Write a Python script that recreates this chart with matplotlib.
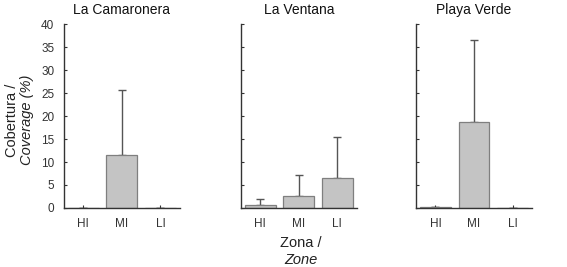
import numpy as np
import matplotlib.pyplot as plt

plt.rcParams['font.family'] = ['Liberation Sans', 'DejaVu Sans']

zones = ['HI', 'MI', 'LI']
sites = ['La Camaronera', 'La Ventana', 'Playa Verde']

# mean cover and upper error (SD) per zone
camaronera = [0.0, 11.6, 0.0]
camaronera_err = [0.0, 14.1, 0.0]
ventana = [0.6, 2.5, 6.6]
ventana_err = [1.4, 4.7, 8.8]
verde = [0.2, 18.8, 0.0]
verde_err = [0.1, 17.8, 0.0]

means = [camaronera, ventana, verde]
errs = [camaronera_err, ventana_err, verde_err]

fig = plt.figure(figsize=(5.67, 2.67), dpi=100)
lefts = [0.113, 0.425, 0.734]
width = 0.204
bottom = 0.221
height = 0.689

x = np.arange(1, 4)
for i in range(3):
    ax = fig.add_axes([lefts[i], bottom, width, height])
    m = np.array(means[i])
    e = np.array(errs[i])
    ax.bar(x, m, width=0.8, color='#c4c4c4', edgecolor='#7f7f7f', linewidth=0.9, zorder=2)
    ax.errorbar(x, m, yerr=[np.zeros(3), e], fmt='none', ecolor='#555555',
                elinewidth=1.0, capsize=3, capthick=1.0, zorder=1)
    ax.set_xlim(0.5, 3.5)
    ax.set_ylim(0, 40)
    ax.set_yticks(np.arange(0, 41, 5))
    ax.set_xticks(x)
    ax.set_xticklabels(zones)
    ax.spines['top'].set_visible(False)
    ax.spines['right'].set_visible(False)
    for s in ['left', 'bottom']:
        ax.spines[s].set_color('#333333')
        ax.spines[s].set_linewidth(1.0)
    ax.tick_params(direction='in', length=2, width=0.8, colors='#333333',
                   labelsize=8.5, pad=7, labelcolor='#333333')
    if i > 0:
        ax.set_yticklabels([])
    ax.set_title(sites[i], fontsize=10, color='#111111', pad=7)

fig.text(0.021, 0.55, 'Cobertura /', rotation=90, fontsize=10.5, ha='center', va='center', color='#222222')
fig.text(0.047, 0.55, 'Coverage (%)', rotation=90, fontsize=10.5, style='italic', ha='center', va='center', color='#222222')
fig.text(0.53, 0.09, 'Zona /', fontsize=10.5, ha='center', va='center', color='#222222')
fig.text(0.53, 0.025, 'Zone', fontsize=10.5, style='italic', ha='center', va='center', color='#222222')

fig.savefig('out.png', dpi=100)
